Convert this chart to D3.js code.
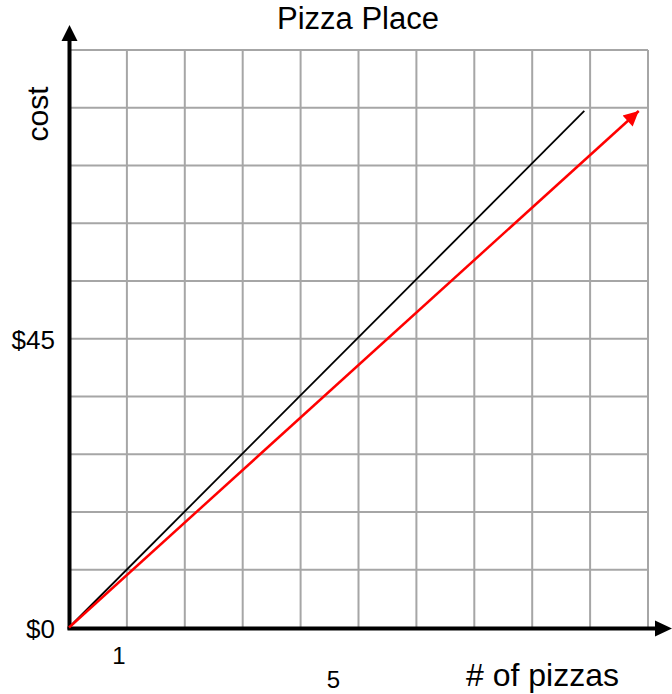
<!DOCTYPE html>
<html>
<head>
<meta charset="utf-8">
<script src="https://cdn.jsdelivr.net/npm/d3@7"></script>
<style>
  body { margin: 0; background: #fff; }
  text { font-family: "Liberation Sans", Arial, sans-serif; fill: #000; }
</style>
</head>
<body>
<div id="chart"></div>
<script>
// data
const xTicks = [1, 5];
const xTickLabels = ["1", "5"];
const yTicks = [0, 45];
const yTickLabels = ["$0", "$45"];
const blackLine = [[0, 0], [8.9, 80.5]];
const redLine = [[0, 0], [9.84, 80.5]];

const width = 672;
const height = 694;

const x = d3.scaleLinear().domain([0, 10]).range([69, 648]);
const y = d3.scaleLinear().domain([0, 90]).range([627.5, 50]);

const svg = d3.select("#chart")
  .append("svg")
  .attr("width", width)
  .attr("height", height);

const defs = svg.append("defs");
defs.append("marker")
  .attr("id", "redHead")
  .attr("viewBox", "0 0 10 10")
  .attr("refX", 10)
  .attr("refY", 5)
  .attr("markerUnits", "userSpaceOnUse")
  .attr("markerWidth", 19)
  .attr("markerHeight", 15)
  .attr("orient", "auto")
  .append("path")
  .attr("d", "M0,0 L10,5 L0,10 Z")
  .attr("fill", "#ff0000");

// grid
const grid = svg.append("g")
  .attr("stroke", "#a6a6a6")
  .attr("stroke-width", 2);

grid.selectAll("line.v")
  .data(d3.range(1, 11))
  .join("line")
  .attr("class", "v")
  .attr("x1", d => x(d))
  .attr("x2", d => x(d))
  .attr("y1", y(90))
  .attr("y2", y(0));

grid.selectAll("line.h")
  .data(d3.range(1, 11))
  .join("line")
  .attr("class", "h")
  .attr("x1", x(0))
  .attr("x2", x(10))
  .attr("y1", d => y(d * 9))
  .attr("y2", d => y(d * 9));

// axes with arrows
svg.append("line")
  .attr("x1", x(0) + 0.5).attr("y1", y(0) + 2)
  .attr("x2", x(0) + 0.5).attr("y2", 38)
  .attr("stroke", "#000").attr("stroke-width", 4);
svg.append("path")
  .attr("d", `M${x(0) + 0.5},25 L${x(0) - 7.5},41 L${x(0) + 8.5},41 Z`)
  .attr("fill", "#000");

svg.append("line")
  .attr("x1", x(0) - 1.5).attr("y1", y(0) + 1)
  .attr("x2", 658).attr("y2", y(0) + 1)
  .attr("stroke", "#000").attr("stroke-width", 4);
svg.append("path")
  .attr("d", `M672,${y(0) + 1} L655,${y(0) - 7} L655,${y(0) + 9} Z`)
  .attr("fill", "#000");

// lines
const line = d3.line().x(d => x(d[0])).y(d => y(d[1]));

svg.append("path")
  .datum(blackLine)
  .attr("d", line)
  .attr("fill", "none")
  .attr("stroke", "#000")
  .attr("stroke-width", 1.8);

svg.append("path")
  .datum(redLine)
  .attr("d", line)
  .attr("fill", "none")
  .attr("stroke", "#ff0000")
  .attr("stroke-width", 2.5)
  .attr("marker-end", "url(#redHead)");

// tick labels
svg.selectAll("text.ylab")
  .data(yTicks)
  .join("text")
  .attr("class", "ylab")
  .attr("x", 55)
  .attr("y", d => y(d) + 10)
  .attr("text-anchor", "end")
  .attr("font-size", 26)
  .text((d, i) => yTickLabels[i]);

// the "5" sits lower and left of its gridline in the original
const xLabelOffsets = [[-8, 36], [-25, 60]];
svg.selectAll("text.xlab")
  .data(xTicks)
  .join("text")
  .attr("class", "xlab")
  .attr("x", (d, i) => x(d) + xLabelOffsets[i][0])
  .attr("y", (d, i) => y(0) + xLabelOffsets[i][1])
  .attr("text-anchor", "middle")
  .attr("font-size", 24)
  .text((d, i) => xTickLabels[i]);

// titles
svg.append("text")
  .attr("x", 358)
  .attr("y", 29)
  .attr("text-anchor", "middle")
  .attr("font-size", 31)
  .text("Pizza Place");

svg.append("text")
  .attr("x", 466)
  .attr("y", 686)
  .attr("font-size", 32)
  .text("# of pizzas");

svg.append("text")
  .attr("transform", "translate(48,114) rotate(-90)")
  .attr("text-anchor", "middle")
  .attr("font-size", 30)
  .text("cost");
</script>
</body>
</html>
